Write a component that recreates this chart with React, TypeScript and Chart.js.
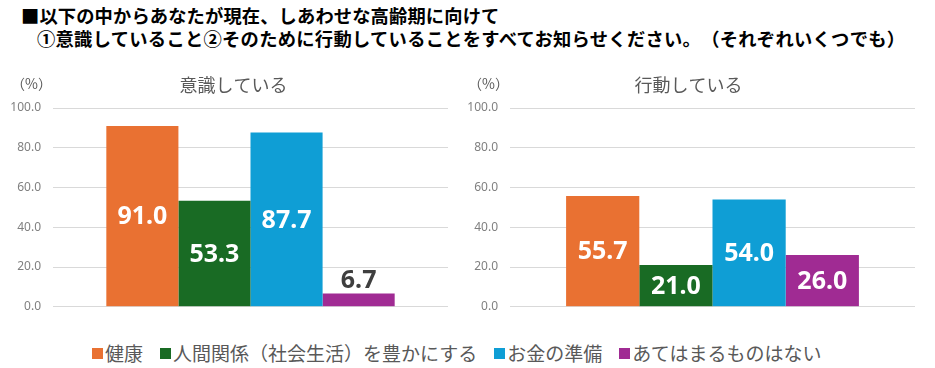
import React, { useEffect, useRef } from "react";
import { Chart, registerables } from "chart.js";

Chart.register(...registerables);

const titleLine1 = "■以下の中からあなたが現在、しあわせな高齢期に向けて";
const titleLine2 = "①意識していること②そのために行動していることをすべてお知らせください。（それぞれいくつでも）";
const seriesNames = ["健康", "人間関係（社会生活）を豊かにする", "お金の準備", "あてはまるものはない"];
const seriesColors = ["#E97132", "#196B24", "#0F9ED5", "#A02B93"];
const panelTitles = ["意識している", "行動している"];
const awareValues = [91.0, 53.3, 87.7, 6.7];
const actionValues = [55.7, 21.0, 54.0, 26.0];
const yMin = 0;
const yMax = 100;
const yStep = 20;
const unitLabel = "（%）";

const JP = '"Noto Sans CJK JP", "Noto Sans", sans-serif';
const CANVAS_H = 266;

const panelTextPlugin = {
  id: "panelText",
  afterDraw(chart: any, _args: any, opts: any) {
    const ctx = chart.ctx;
    ctx.save();
    ctx.fillStyle = "#595959";
    ctx.font = `18px ${JP}`;
    ctx.textAlign = "center";
    ctx.textBaseline = "middle";
    ctx.fillText(opts.title, chart.width / 2, opts.titleY);
    ctx.font = `14px ${JP}`;
    ctx.textAlign = "left";
    ctx.fillText(unitLabel, opts.unitX, opts.unitY);
    ctx.restore();
  },
};

const valueLabelPlugin = {
  id: "valueLabels",
  afterDatasetsDraw(chart: any) {
    const ctx = chart.ctx;
    ctx.save();
    ctx.font = `bold 25px "Noto Sans", sans-serif`;
    ctx.textAlign = "center";
    chart.data.datasets.forEach((ds: any, i: number) => {
      const meta = chart.getDatasetMeta(i);
      meta.data.forEach((el: any, j: number) => {
        const v = ds.data[j] as number;
        const { x, y, base } = el.getProps(["x", "y", "base"], true);
        const txt = v.toFixed(1);
        if (base - y > 30) {
          ctx.fillStyle = "#FFFFFF";
          ctx.textBaseline = "middle";
          ctx.fillText(txt, x, (y + base) / 2 + 1);
        } else {
          ctx.fillStyle = "#3F3F3F";
          ctx.textBaseline = "alphabetic";
          ctx.fillText(txt, x, y - 5);
        }
      });
    });
    ctx.restore();
  },
};

type PanelProps = {
  title: string;
  values: number[];
  left: number;
  width: number;
  padRight: number;
  catPct: number;
};

function Panel({ title, values, left, width, padRight, catPct }: PanelProps) {
  const ref = useRef<HTMLCanvasElement | null>(null);
  useEffect(() => {
    if (!ref.current) return;
    const chart = new Chart(ref.current, {
      type: "bar",
      data: {
        labels: [""],
        datasets: seriesNames.map((name, i) => ({
          label: name,
          data: [values[i]],
          backgroundColor: seriesColors[i],
          borderWidth: 0,
          categoryPercentage: catPct,
          barPercentage: 1.0,
        })),
      },
      options: {
        animation: false,
        responsive: false,
        layout: { padding: { top: 48, right: padRight, bottom: 8, left: 0 } },
        plugins: {
          legend: { display: false },
          title: { display: false },
          tooltip: { enabled: false },
          panelText: { title, titleY: 25, unitX: 11, unitY: 24 },
        } as any,
        scales: {
          x: { display: false },
          y: {
            min: yMin,
            max: yMax,
            afterFit: (s: any) => {
              s.width = 53;
            },
            border: { display: false },
            grid: { color: "#D9D9D9", drawTicks: false, lineWidth: 1 },
            ticks: {
              stepSize: yStep,
              padding: 12,
              color: "#808080",
              font: { size: 12, family: '"Noto Sans", sans-serif' },
              callback: (v: any) => Number(v).toFixed(1),
            },
          },
        },
      },
      plugins: [panelTextPlugin, valueLabelPlugin],
    });
    return () => chart.destroy();
  }, []);
  return (
    <canvas
      ref={ref}
      width={width}
      height={CANVAS_H}
      style={{ position: "absolute", left, top: 60, width, height: CANVAS_H }}
    />
  );
}

const titleStyle: any = {
  position: "absolute",
  fontFamily: JP,
  fontWeight: 700,
  fontSize: 18.3,
  lineHeight: "20px",
  color: "#000",
  whiteSpace: "nowrap",
  textSpacingTrim: "space-all",
};

export default function App() {
  return (
    <div
      style={{
        position: "absolute",
        left: 0,
        top: 0,
        width: 935,
        height: 368,
        background: "#FFFFFF",
        overflow: "hidden",
      }}
    >
      <div style={{ ...titleStyle, left: 21, top: 5, letterSpacing: 0.12 }}>{titleLine1}</div>
      <div style={{ ...titleStyle, left: 37, top: 28, letterSpacing: 0.28 }}>{titleLine2}</div>
      <Panel title={panelTitles[0]} values={awareValues} left={0} width={467} padRight={19} catPct={0.73} />
      <Panel title={panelTitles[1]} values={actionValues} left={457} width={463} padRight={5} catPct={0.723} />
      <div
        style={{
          position: "absolute",
          left: 92,
          top: 342,
          display: "flex",
          alignItems: "center",
          gap: 17,
          fontFamily: JP,
          fontSize: 19,
          lineHeight: "22px",
          color: "#595959",
          whiteSpace: "nowrap",
          textSpacingTrim: "space-all",
        } as any}
      >
        {seriesNames.map((n, i) => (
          <div key={n} style={{ display: "flex", alignItems: "center" }}>
            <span
              style={{
                display: "inline-block",
                width: 11,
                height: 11,
                background: seriesColors[i],
                marginRight: 2,
              }}
            />
            <span>{n}</span>
          </div>
        ))}
      </div>
    </div>
  );
}
